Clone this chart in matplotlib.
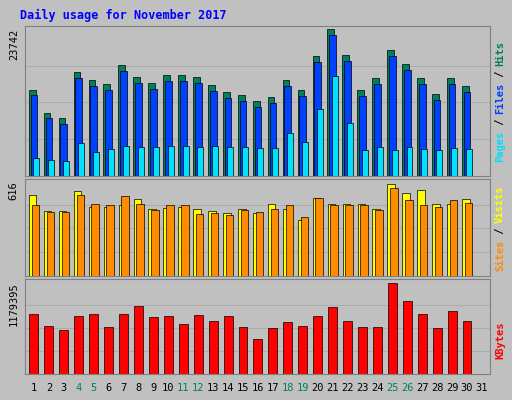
import matplotlib
matplotlib.use("Agg")
import matplotlib.pyplot as plt
import numpy as np

days = list(range(1, 31))
hits = [13900, 10200, 9400, 16800, 15500, 14900, 17900, 16000, 15000, 16300, 16300, 16000, 14700, 13600, 13100, 12100, 12800, 15500, 13900, 19300, 23742, 19500, 13900, 15800, 20300, 18100, 15800, 13300, 15800, 14500]
files = [13000, 9300, 8400, 15800, 14500, 13900, 17000, 15000, 14000, 15300, 15300, 15000, 13700, 12600, 12100, 11200, 11800, 14500, 12900, 18400, 22770, 18500, 12900, 14800, 19300, 17100, 14800, 12300, 14800, 13500]
pages = [2910, 2580, 2420, 5330, 3880, 4360, 4840, 4680, 4680, 4840, 4840, 4680, 4840, 4680, 4680, 4520, 4520, 6940, 5490, 10820, 16150, 8560, 4200, 4680, 4200, 4680, 4360, 4200, 4520, 4360]
visits = [526, 420, 420, 551, 446, 446, 459, 498, 433, 440, 446, 433, 420, 407, 433, 407, 465, 433, 361, 505, 465, 465, 465, 433, 596, 538, 557, 465, 465, 498]
sites = [459, 413, 413, 524, 465, 459, 518, 465, 426, 459, 459, 400, 407, 394, 426, 413, 433, 459, 380, 505, 459, 459, 459, 426, 570, 491, 459, 446, 491, 472]
kbytes = [781000, 623000, 570000, 750000, 770000, 610000, 770000, 880000, 740000, 750000, 650000, 760000, 690000, 750000, 610000, 450000, 600000, 670000, 620000, 750000, 870000, 690000, 610000, 610000, 1179395, 940000, 770000, 600000, 810000, 690000]
weekend = [4, 5, 11, 12, 18, 19, 25, 26]

W, H = 512, 400
L, R = 25, 490
XL, XR = 0.4, 31.54
fig = plt.figure(figsize=(5.12, 4.0), dpi=100, facecolor="#C0C0C0")
mono = "DejaVu Sans Mono"
fig.text(20/W, 1-15/H, "Daily usage for November 2017", color="#0000FF",
         fontsize=8.5, fontweight="bold", family=mono, va="center")

def mkax(top, bot):
    ax = fig.add_axes([L/W, 1-bot/H, (R-L)/W, (bot-top)/H])
    ax.set_facecolor("#C0C0C0")
    ax.set_xlim(XL, XR)
    for s in ax.spines.values():
        s.set_color("#808080")
    ax.set_xticks([])
    ax.tick_params(left=False, pad=1)
    return ax

x = np.array(days)
ax1 = mkax(26, 176)
ax1.set_ylim(0, 23742 * 1.02)
for f in (0.25, 0.5, 0.75):
    ax1.axhline(23742*f, color="#A8A8A8", lw=0.6, zorder=0)
ax1.bar(x-0.12, hits, 0.45, color="#00805C", edgecolor="black", lw=0.5)
ax1.bar(x+0.0, files, 0.45, color="#0040FF", edgecolor="black", lw=0.5)
ax1.bar(x+0.15, pages, 0.4, color="#00E0FF", edgecolor="black", lw=0.5)
ax1.set_yticks([23742]); ax1.set_yticklabels(["23742"], rotation=90, va="top", family=mono, fontsize=7.5)

ax2 = mkax(179, 276)
ax2.set_ylim(0, 616 * 1.02)
for f in (0.25, 0.5, 0.75):
    ax2.axhline(616*f, color="#A8A8A8", lw=0.6, zorder=0)
ax2.bar(x-0.08, visits, 0.5, color="#FFFF00", edgecolor="black", lw=0.5)
ax2.bar(x+0.1, sites, 0.5, color="#FF8C00", edgecolor="black", lw=0.5)
ax2.set_yticks([616]); ax2.set_yticklabels(["616"], rotation=90, va="top", family=mono, fontsize=7.5)

ax3 = mkax(279, 374)
ax3.set_ylim(0, 1179395 * 1.04)
for f in (0.25, 0.5, 0.75):
    ax3.axhline(1179395*f, color="#A8A8A8", lw=0.6, zorder=0)
ax3.bar(x, kbytes, 0.6, color="#FF0000", edgecolor="black", lw=0.5)
ax3.set_yticks([1179395]); ax3.set_yticklabels(["1179395"], rotation=90, va="top", family=mono, fontsize=7.5)

for d in range(1, 32):
    fig.text((L + (d-XL)/(XR-XL)*(R-L))/W, 1-388/H, str(d), ha="center", va="center",
             fontsize=7.5, family=mono, color="#00805C" if d in weekend else "black")

def rlabel(y_center, parts):
    total = sum(len(p[0]) for p in parts)
    ch = 6.0
    y = y_center + total*ch/2
    for t, c in parts:
        n = len(t)
        fig.text(500/W, 1-(y - n*ch/2)/H, t, rotation=90, ha="center", va="center",
                 color=c, fontsize=7.5, family=mono, fontweight="bold")
        y -= n*ch

rlabel(101, [("Pages", "#00E0FF"), (" / ", "black"), ("Files", "#0040FF"), (" / ", "black"), ("Hits", "#00805C")])
rlabel(228, [("Sites", "#FF8C00"), (" / ", "black"), ("Visits", "#FFFF00")])
rlabel(340, [("KBytes", "#FF0000")])

fig.savefig("out.png", dpi=100, facecolor=fig.get_facecolor())
